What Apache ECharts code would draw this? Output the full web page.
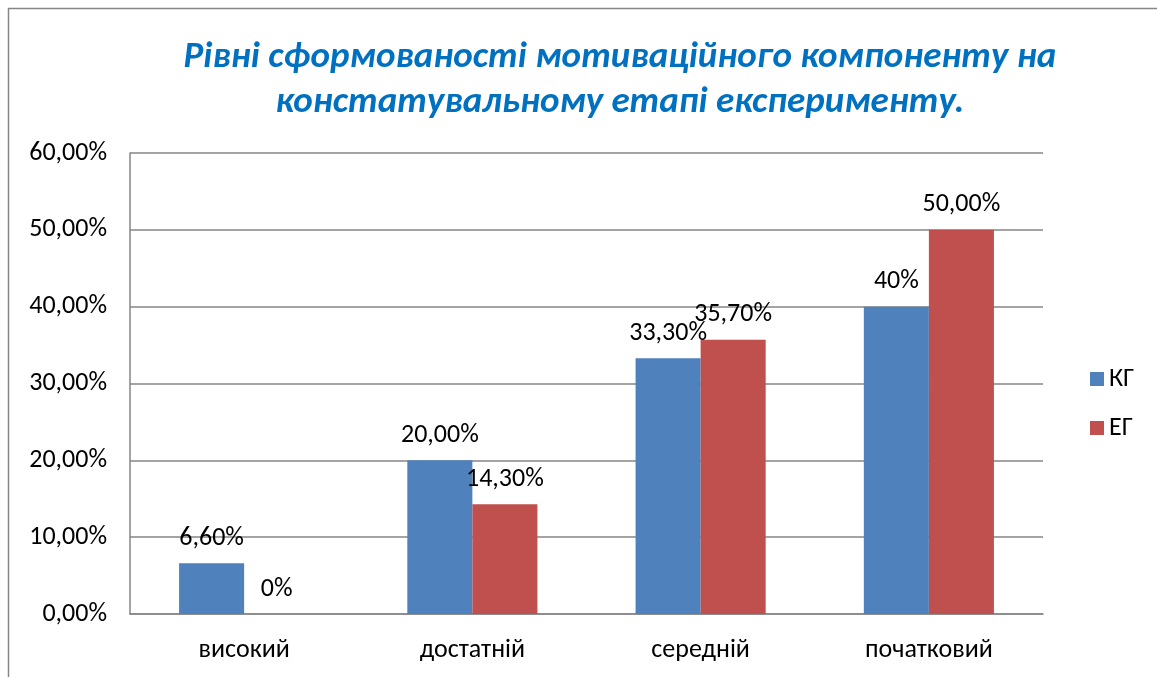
<!DOCTYPE html>
<html>
<head>
<meta charset="utf-8">
<script src="https://cdn.jsdelivr.net/npm/echarts@6/dist/echarts.min.js"></script>
<style>html,body{margin:0;padding:0;background:#fff}#c{width:1157px;height:677px}</style>
</head>
<body>
<div id="c"></div>
<script>
const titleText = 'Рівні сформованості мотиваційного компоненту на\nконстатувальному етапі експерименту.';
const categories = ['високий', 'достатній', 'середній', 'початковий'];
const seriesNames = ['КГ', 'ЕГ'];
const kgValues = [6.6, 20.0, 33.3, 40.0];
const egValues = [0, 14.3, 35.7, 50.0];
const kgLabels = ['6,60%', '20,00%', '33,30%', '40%'];
const egLabels = ['0%', '14,30%', '35,70%', '50,00%'];
const yTickValues = [0, 10, 20, 30, 40, 50, 60];
const yTickLabels = ['0,00%', '10,00%', '20,00%', '30,00%', '40,00%', '50,00%', '60,00%'];

const font = 'Calibri, Carlito, "Open Sans", "Noto Sans", sans-serif';
const fs = 26;
const chart = echarts.init(document.getElementById('c'), null, {renderer: 'canvas'});
const lbl = (arr) => ({
  show: true, position: 'top', distance: 12,
  fontFamily: font, fontSize: fs, color: '#000',
  formatter: (p) => arr[p.dataIndex]
});
chart.setOption({
  animation: false,
  backgroundColor: '#fff',
  textStyle: {fontFamily: font},
  graphic: [
    {type: 'rect', shape: {x: 8.5, y: 8.5, width: 1160, height: 680},
     style: {fill: 'none', stroke: '#868686', lineWidth: 1.5}, silent: true, z: -1},
    {type: 'text', x: 620, y: 80,
     style: {text: titleText, fontFamily: font, fontSize: 37, fontStyle: 'italic', fontWeight: 'bold',
       fill: '#0070C0', textAlign: 'center', textVerticalAlign: 'middle', lineHeight: 45}}
  ],
  legend: {
    orient: 'vertical', left: 1085, top: 361, itemGap: 23, itemWidth: 14, itemHeight: 14,
    icon: 'rect',
    textStyle: {fontFamily: font, fontSize: fs, color: '#000', padding: [0, 0, 0, 0]},
    data: seriesNames
  },
  grid: {left: 130, right: 114, top: 153, bottom: 63, containLabel: false},
  xAxis: {
    type: 'category', data: categories,
    axisLine: {lineStyle: {color: '#868686', width: 1.5}},
    axisTick: {show: false},
    axisLabel: {fontFamily: font, fontSize: fs, color: '#000', margin: 23}
  },
  yAxis: {
    type: 'value', min: 0, max: 60, interval: 10,
    axisLine: {show: true, lineStyle: {color: '#868686', width: 1.5}},
    axisTick: {show: false},
    splitLine: {lineStyle: {color: '#868686', width: 1.5}},
    axisLabel: {fontFamily: font, fontSize: fs, color: '#000', margin: 23,
      formatter: (v) => yTickLabels[yTickValues.indexOf(v)]}
  },
  series: [
    {name: seriesNames[0], type: 'bar', data: kgValues, barGap: '0%', barCategoryGap: '43%',
     itemStyle: {color: '#4F81BD'}, label: lbl(kgLabels)},
    {name: seriesNames[1], type: 'bar', data: egValues, barGap: '0%', barCategoryGap: '43%',
     itemStyle: {color: '#C0504D'}, label: lbl(egLabels)}
  ]
});
</script>
</body>
</html>
